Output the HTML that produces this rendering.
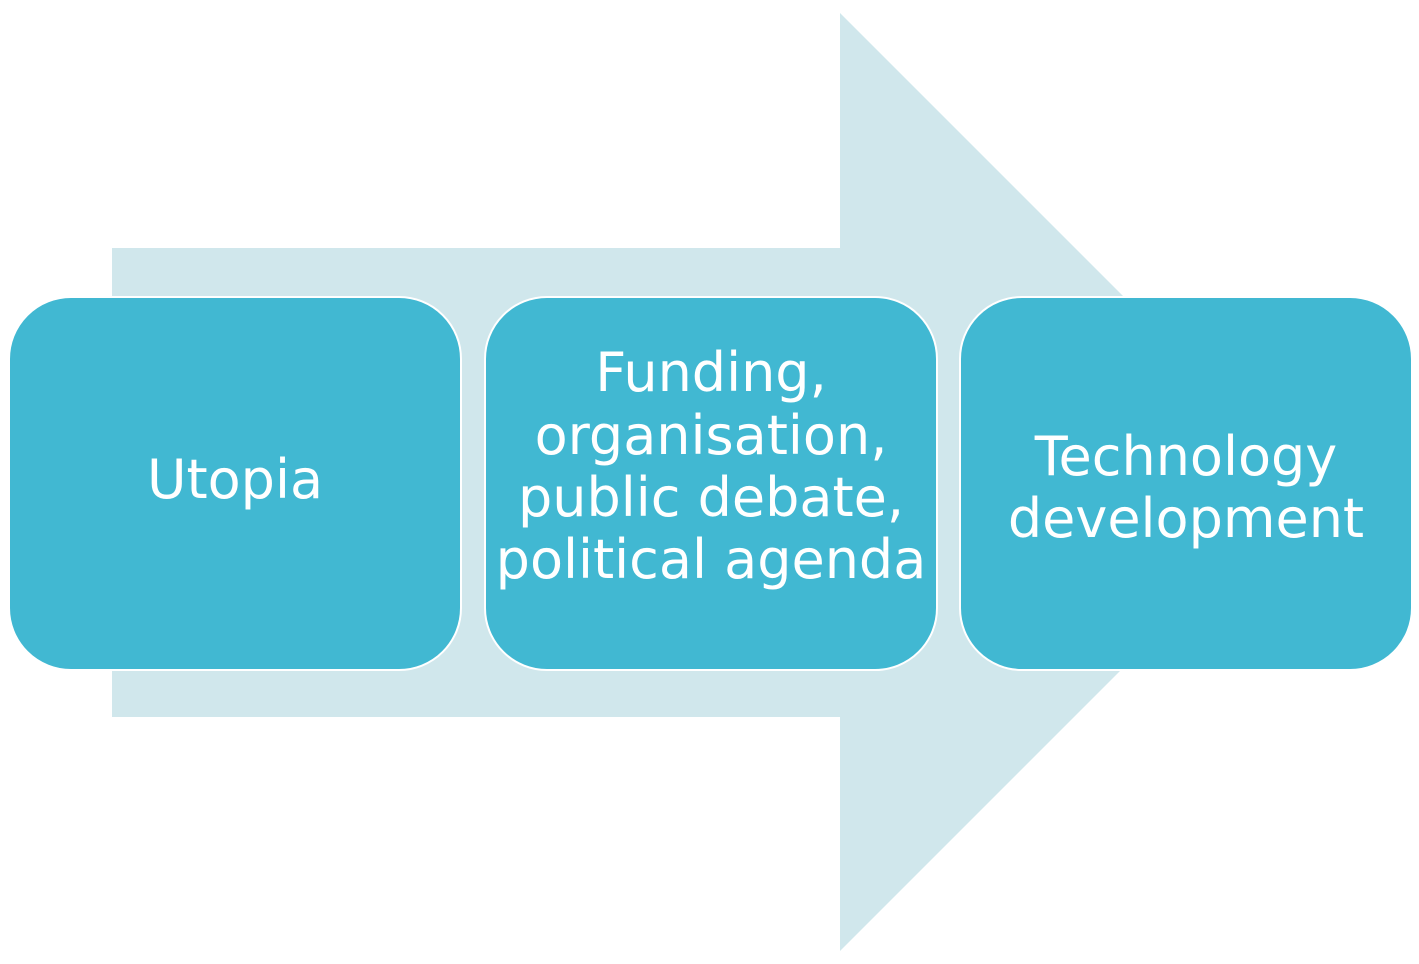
<!DOCTYPE html>
<html><head><meta charset="utf-8"><style>
html,body{margin:0;padding:0;background:#fff;}
svg{display:block;}
text{font-family:"DejaVu Sans","Liberation Sans",sans-serif;fill:#fff;font-size:54px;}
</style></head><body>
<svg width="1419" height="964" viewBox="0 0 1419 964">
<polygon points="112,248 840,248 840,13 1309,482 840,951 840,717 112,717" fill="#D0E7EC"/>
<g>
<rect x="9" y="297" width="452" height="373" rx="62" ry="62" fill="#41B8D2" stroke="#fff" stroke-width="2"/>
<text x="235" y="498" text-anchor="middle">Utopia</text>
</g>
<g>
<rect x="485" y="297" width="452" height="373" rx="62" ry="62" fill="#41B8D2" stroke="#fff" stroke-width="2"/>
<text x="711" y="391" text-anchor="middle">Funding,</text>
<text x="711" y="454" text-anchor="middle">organisation,</text>
<text x="711" y="516" text-anchor="middle">public debate,</text>
<text x="711" y="578" text-anchor="middle">political agenda</text>
</g>
<g>
<rect x="960" y="297" width="452" height="373" rx="62" ry="62" fill="#41B8D2" stroke="#fff" stroke-width="2"/>
<text x="1186" y="475" text-anchor="middle">Technology</text>
<text x="1186" y="537" text-anchor="middle">development</text>
</g>
</svg>
</body></html>
